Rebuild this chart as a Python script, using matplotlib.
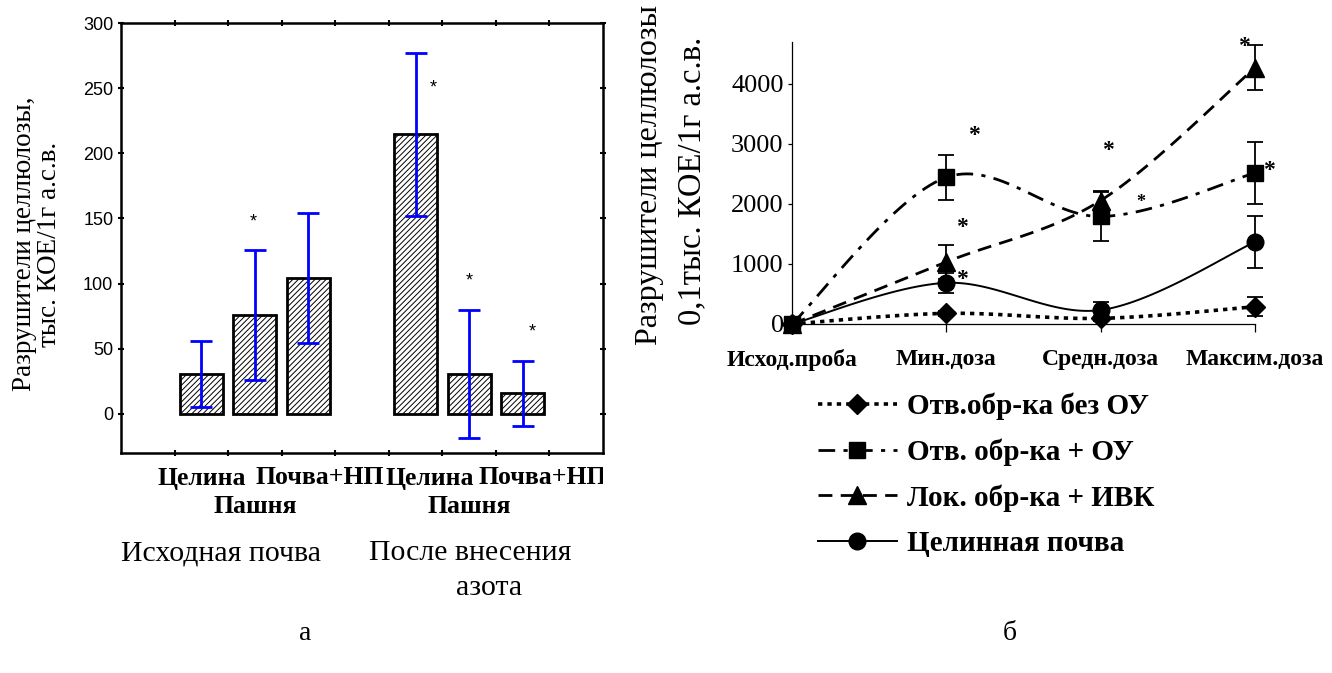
import numpy as np
import matplotlib
matplotlib.use('Agg')
import matplotlib.pyplot as plt
from matplotlib.lines import Line2D
from matplotlib.transforms import Bbox, TransformedBbox, blended_transform_factory

# ---------------- data: panel "а" (bars) ----------------
bar_labels = ['Целина', 'Пашня', 'Почва+НП', 'Целина', 'Пашня', 'Почва+НП']
bar_positions = [1.5, 2.5, 3.5, 5.5, 6.5, 7.5]
bar_values = [30.5, 76, 104, 214.6, 30.5, 15.5]
bar_errors = [25, 50, 50, 62.5, 49.5, 25]
star_x = [2.47, 5.83, 6.50, 7.68]
star_y = [147, 250, 102, 63]
group_labels = ['Исходная почва', 'После внесения', 'азота']
left_yticks = [0, 50, 100, 150, 200, 250, 300]

# ---------------- data: panel "б" (lines) ----------------
doses = ['Исход.проба', 'Мин.доза', 'Средн.доза', 'Максим.доза']
series_names = ['Отв.обр-ка без ОУ', 'Отв. обр-ка + ОУ', 'Лок. обр-ка + ИВК', 'Целинная почва']
s_no_ou = [0, 177, 94, 287]
e_no_ou = [0, 40, 40, 155]
s_ou = [0, 2442, 1790, 2515]
e_ou = [0, 370, 400, 515]
s_ivk = [0, 1033, 2056, 4266]
e_ivk = [0, 290, 166, 375]
s_virgin = [0, 685, 232, 1365]
e_virgin = [0, 165, 140, 435]
right_yticks = [0, 1000, 2000, 3000, 4000]
rstar_x = [1.18, 1.10, 1.10, 2.05, 2.26, 2.93, 3.09]
rstar_y = [3134, 1613, 741, 2885, 2028, 4626, 2553]
rstar_size = [17, 17, 17, 17, 13, 17, 17]

SERIF = ['Liberation Serif', 'DejaVu Serif']
SANS = ['Liberation Sans', 'DejaVu Sans']

plt.rcParams['hatch.linewidth'] = 0.7

W, H = 1332, 673
fig = plt.figure(figsize=(W / 100, H / 100), dpi=100)


def fx(px):
    return px / W


def fy(py):
    return 1 - py / H


# ================= panel а =================
axL = fig.add_axes([fx(121), fy(452.7), fx(603) - fx(121), fy(23.3) - fy(452.7)])
axL.bar(bar_positions, bar_values, width=0.8, color='white', edgecolor='black',
        linewidth=2.0, hatch='//////', zorder=2)
axL.errorbar(bar_positions, bar_values, yerr=bar_errors, fmt='none', ecolor='#0000ff',
             elinewidth=2.0, capsize=8, capthick=2.0, zorder=3)
for x, y in zip(star_x, star_y):
    axL.text(x, y, '*', ha='center', va='center', fontsize=13, family=SANS)
axL.set_xlim(0, 9)
axL.set_ylim(-30, 300)
axL.set_yticks(left_yticks)
axL.set_xticks(range(1, 9))
axL.set_xticklabels([])
axL.tick_params(axis='both', which='both', direction='inout', length=4, width=1.5,
                top=True, right=True, labelsize=13)
for lab in axL.get_yticklabels():
    lab.set_family(SANS)
for sp in axL.spines.values():
    sp.set_linewidth(1.8)

# category labels (two staggered rows)
trans = blended_transform_factory(axL.transData, fig.transFigure)
clip = TransformedBbox(Bbox([[0, 0], [1, 1]]),
                       blended_transform_factory(axL.transAxes, fig.transFigure))
row_y = [fy(478), fy(506.5)]
label_shift = [0.0, 0.0, 0.22, 0.26, 0.0, 0.38]
for i, (x, lab) in enumerate(zip(bar_positions, bar_labels)):
    row = 1 if lab == 'Пашня' else 0
    t = axL.text(x + label_shift[i], row_y[row], lab, transform=trans, ha='center',
                 va='center', fontsize=18.5, fontweight='bold', family=SERIF)
    t.set_clip_box(clip)
    t.set_clip_on(True)

fig.text(fx(221), fy(553), group_labels[0], ha='center', va='center',
         fontsize=21.5, family=SERIF)
fig.text(fx(470), fy(553), group_labels[1], ha='center', va='center',
         fontsize=21.5, family=SERIF)
fig.text(fx(489), fy(588), group_labels[2], ha='center', va='center',
         fontsize=21.5, family=SERIF)

fig.text(fx(37), fy(244), 'Разрушители целлюлозы,\nтыс. КОЕ/1г а.с.в.', rotation=90,
         ha='center', va='center', fontsize=19.5, family=SERIF, multialignment='center',
         linespacing=0.95)

# ================= panel б =================
axR = fig.add_axes([fx(792), fy(328.2), fx(1255) - fx(792), fy(41.7) - fy(328.2)])


def smooth(xv, yv, n=40):
    pts = np.column_stack([xv, yv]).astype(float)
    P = np.vstack([pts[0], pts, pts[-1]])
    out = []
    for i in range(1, len(P) - 2):
        p0, p1, p2, p3 = P[i - 1], P[i], P[i + 1], P[i + 2]
        c1 = p1 + (p2 - p0) / 6
        c2 = p2 - (p3 - p1) / 6
        t = np.linspace(0, 1, n)[:, None]
        seg = (1 - t) ** 3 * p1 + 3 * (1 - t) ** 2 * t * c1 + 3 * (1 - t) * t ** 2 * c2 + t ** 3 * p2
        out.append(seg if i == 1 else seg[1:])
    return np.vstack(out)


xs = np.arange(len(doses))
series = [s_no_ou, s_ou, s_ivk, s_virgin]
errors = [e_no_ou, e_ou, e_ivk, e_virgin]
markers = ['D', 's', '^', 'o']
msizes = [10, 11.5, 13, 12]
styles = [(0, (1.2, 1.4)), (0, (6, 3, 1.5, 3)), (0, (5, 3)), '-']
lwidths = [2.6, 2.0, 2.0, 1.4]
handles = []
for yv, ev, m, ms, ls, lw, name in zip(series, errors, markers, msizes, styles, lwidths, series_names):
    c = smooth(xs, yv)
    axR.plot(c[:, 0], c[:, 1], color='black', linestyle=ls, linewidth=lw, clip_on=False, zorder=3)
    axR.errorbar(xs, yv, yerr=ev, fmt=m, ms=ms, color='black', ecolor='black', elinewidth=1.3,
                 capsize=6, capthick=1.3, clip_on=False, zorder=4)
    handles.append(Line2D([], [], color='black', linestyle=ls, linewidth=lw, marker=m,
                          markersize=ms, label=name))
for x, y, s in zip(rstar_x, rstar_y, rstar_size):
    axR.text(x, y, '*', ha='center', va='center', fontsize=s, family=SERIF, fontweight='bold')

axR.spines['top'].set_visible(False)
axR.spines['right'].set_visible(False)
axR.spines['bottom'].set_position(('data', 0))
axR.spines['bottom'].set_linewidth(0.9)
axR.spines['left'].set_linewidth(0.9)
axR.set_xlim(0, 3)
axR.set_ylim(-70, 4700)
axR.set_xticks(xs)
axR.set_xticklabels(doses, fontsize=17, fontweight='bold', family=SERIF)
axR.set_yticks(right_yticks)
axR.set_yticklabels([str(v) for v in right_yticks], fontsize=19, family=SERIF)
axR.tick_params(axis='x', direction='out', length=6, width=0.9, pad=12)
axR.tick_params(axis='y', direction='out', length=3, width=0.9, pad=3)
axR.patch.set_visible(False)

fig.legend(handles=handles, loc='upper left', bbox_to_anchor=(fx(818), fy(393)),
           bbox_transform=fig.transFigure, frameon=False, borderpad=0, borderaxespad=0,
           handlelength=2.7, handletextpad=0.35, labelspacing=0.62, numpoints=1,
           prop={'family': SERIF, 'weight': 'bold', 'size': 21})

fig.text(fx(650), fy(345), 'Разрушители целлюлозы', rotation=90, ha='center', va='bottom',
         fontsize=23, family=SERIF)
fig.text(fx(692), fy(325), '0,1тыс. КОЕ/1г а.с.в.', rotation=90, ha='center', va='bottom',
         fontsize=23.5, family=SERIF)

fig.text(fx(305), fy(633), 'а', ha='center', va='center', fontsize=20, family=SERIF)
fig.text(fx(1010), fy(633), 'б', ha='center', va='center', fontsize=20, family=SERIF)

fig.savefig('out.png', dpi=100)
